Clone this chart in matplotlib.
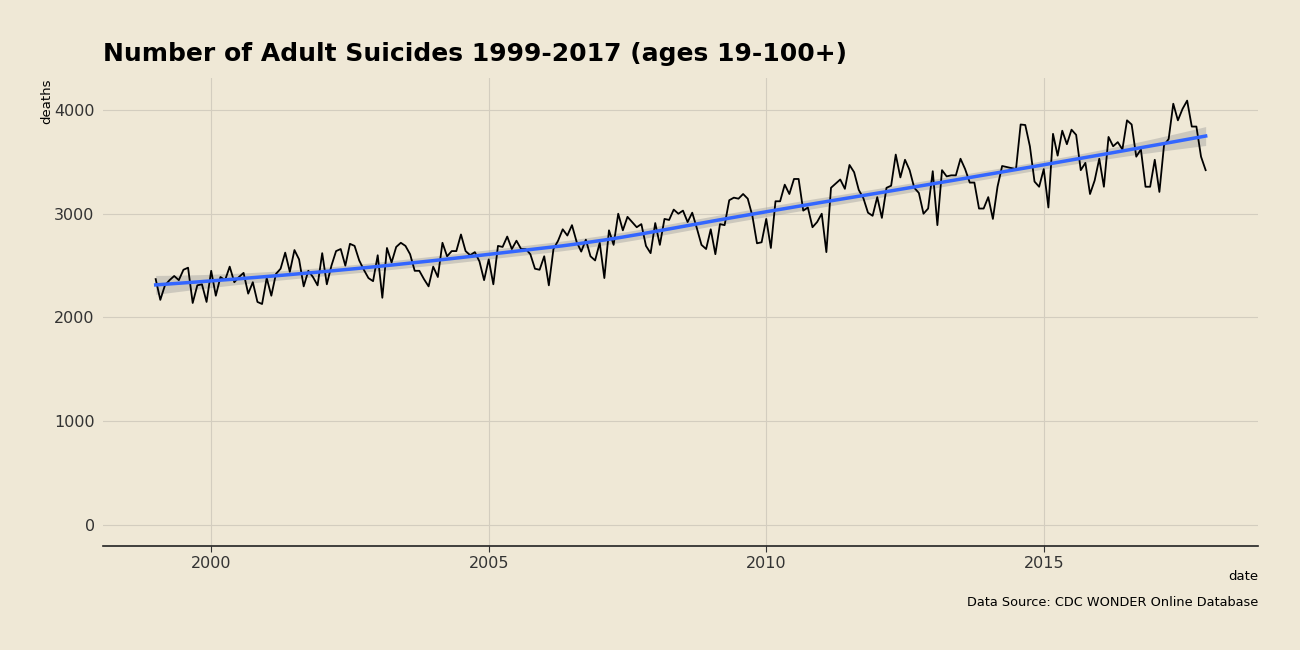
import numpy as np
import pandas as pd
import matplotlib
matplotlib.use("Agg")
import matplotlib.pyplot as plt

# monthly adult suicide deaths, Jan 1999 - Dec 2017
years = list(range(1999, 2018))
deaths = [
    2370, 2170, 2310, 2360, 2400, 2360, 2460, 2480, 2140, 2310, 2320, 2150,  # 1999
    2450, 2210, 2390, 2360, 2490, 2340, 2390, 2430, 2230, 2340, 2150, 2130,  # 2000
    2380, 2210, 2420, 2470, 2625, 2440, 2650, 2560, 2300, 2450, 2390, 2310,  # 2001
    2620, 2320, 2500, 2640, 2660, 2500, 2710, 2690, 2550, 2460, 2380, 2350,  # 2002
    2600, 2190, 2670, 2530, 2680, 2720, 2690, 2610, 2450, 2450, 2370, 2300,  # 2003
    2490, 2390, 2720, 2590, 2640, 2640, 2800, 2640, 2600, 2630, 2540, 2360,  # 2004
    2560, 2320, 2690, 2680, 2780, 2660, 2740, 2660, 2660, 2610, 2470, 2460,  # 2005
    2590, 2310, 2660, 2740, 2850, 2790, 2890, 2730, 2635, 2750, 2590, 2550,  # 2006
    2720, 2380, 2840, 2700, 3000, 2840, 2970, 2920, 2870, 2900, 2690, 2620,  # 2007
    2910, 2700, 2950, 2940, 3040, 3000, 3030, 2920, 3010, 2860, 2700, 2660,  # 2008
    2850, 2610, 2900, 2890, 3130, 3155, 3145, 3190, 3145, 2980, 2715, 2725,  # 2009
    2950, 2670, 3120, 3120, 3280, 3190, 3335, 3335, 3030, 3060, 2870, 2920,  # 2010
    3000, 2630, 3250, 3290, 3330, 3240, 3470, 3400, 3230, 3150, 3010, 2980,  # 2011
    3160, 2960, 3250, 3270, 3570, 3350, 3520, 3420, 3250, 3200, 3000, 3050,  # 2012
    3410, 2890, 3420, 3360, 3370, 3370, 3530, 3430, 3300, 3300, 3050, 3050,  # 2013
    3160, 2950, 3260, 3460, 3450, 3440, 3430, 3860, 3855, 3650, 3310, 3260,  # 2014
    3430, 3060, 3770, 3560, 3800, 3670, 3810, 3760, 3420, 3490, 3190, 3320,  # 2015
    3530, 3260, 3740, 3650, 3690, 3620, 3900, 3860, 3550, 3620, 3260, 3260,  # 2016
    3520, 3210, 3660, 3720, 4060, 3900, 4010, 4090, 3840, 3840, 3550, 3420,  # 2017
]
x_ticks = [2000, 2005, 2010, 2015]
y_ticks = [0, 1000, 2000, 3000, 4000]

df = pd.DataFrame({
    'date': [y + m / 12 for y in years for m in range(12)],
    'deaths': deaths,
})


def loess_weights(x, x0, span=0.75):
    # local quadratic loess: returns the linear operator row for the fit at x0
    n = len(x)
    q = int(np.floor(n * span))
    d = np.abs(x - x0)
    h = np.sort(d)[q - 1]
    w = np.clip(1 - (d / h) ** 3, 0, None) ** 3
    X = np.column_stack([np.ones(n), x - x0, (x - x0) ** 2])
    XtW = X.T * w
    return np.linalg.solve(XtW @ X, XtW)[0]


# loess smoother with 95% band (like geom_smooth default)
x = df['date'].values
y = df['deaths'].values
n = len(x)
L = np.array([loess_weights(x, xi) for xi in x])
resid = y - L @ y
IL = np.eye(n) - L
d1 = np.trace(IL.T @ IL)
s = np.sqrt(np.sum(resid ** 2) / d1)
xs = np.linspace(x.min(), x.max(), 200)
Ls = np.array([loess_weights(x, xi) for xi in xs])
fit = Ls @ y
band = 1.97 * s * np.sqrt(np.sum(Ls ** 2, axis=1))

bg = '#EFE8D6'
fig, ax = plt.subplots(figsize=(13, 6.5), dpi=100)
fig.patch.set_facecolor(bg)
ax.set_facecolor(bg)
plt.subplots_adjust(left=0.0792, right=0.9677, top=0.88, bottom=0.16)

ax.plot(df['date'], df['deaths'], color='black', lw=1.3, zorder=3)
ax.fill_between(xs, fit - band, fit + band, color='#999999', alpha=0.4, lw=0, zorder=2)
ax.plot(xs, fit, color='#3366FF', lw=2.5, zorder=4)

ax.set_xlim(1998.05, 2018.86)
ax.set_ylim(-202, 4308)
ax.set_xticks(x_ticks)
ax.set_yticks(y_ticks)
ax.grid(True, color='#D3CDBF', lw=0.8)
ax.set_axisbelow(True)
for sp in ['top', 'right', 'left']:
    ax.spines[sp].set_visible(False)
ax.spines['bottom'].set_color('#222222')
ax.spines['bottom'].set_linewidth(1.2)
ax.tick_params(axis='x', length=4, color='#333333', labelsize=11.5, labelcolor='#333333')
ax.tick_params(axis='y', length=0, labelsize=11.5, labelcolor='#333333', pad=6)

ax.set_title('Number of Adult Suicides 1999-2017 (ages 19-100+)', loc='left',
             fontsize=18, fontweight='bold', pad=12)
ax.set_ylabel('deaths', fontsize=9.5)
ax.yaxis.set_label_coords(-0.043, 1.0)
ax.yaxis.label.set_horizontalalignment('right')
fig.text(0.9677, 0.108, 'date', ha='right', fontsize=9.5)
fig.text(0.9677, 0.067, 'Data Source: CDC WONDER Online Database', ha='right', fontsize=9.25)

plt.savefig('out.png', facecolor=bg)
